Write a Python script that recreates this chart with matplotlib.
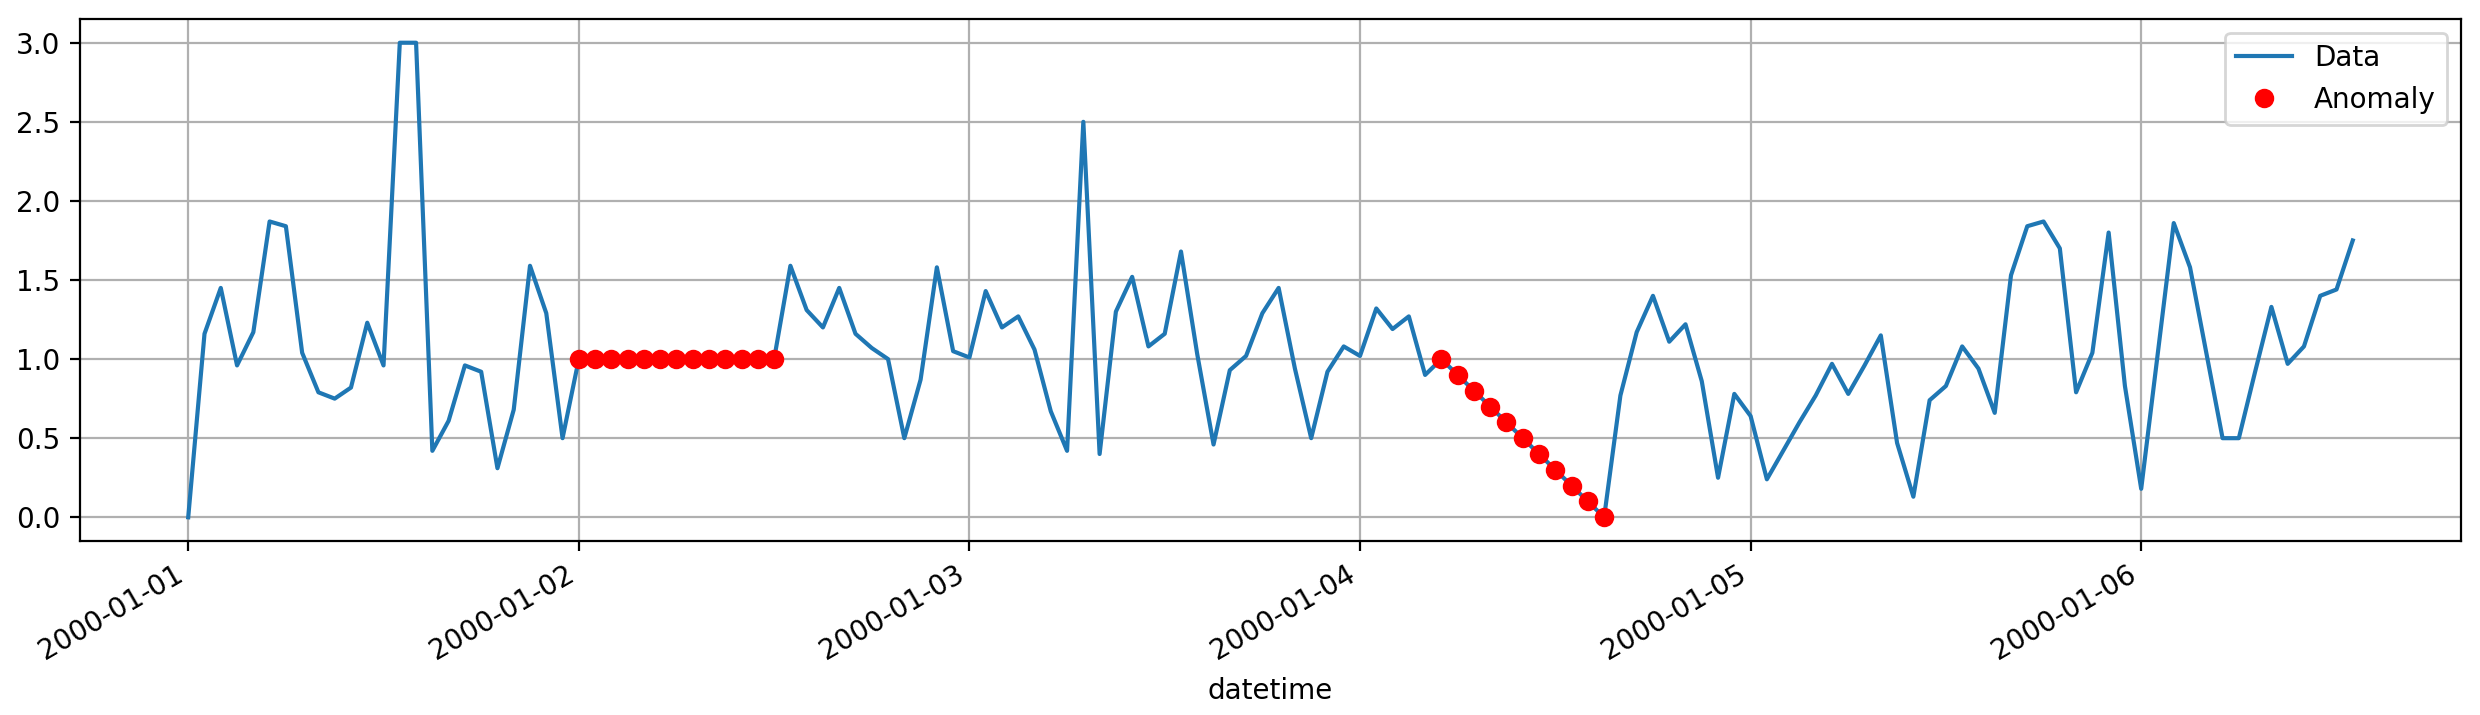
# hourly series with flagged anomalies

import numpy as np
import pandas as pd
import matplotlib
matplotlib.use('Agg')
import matplotlib.pyplot as plt
import matplotlib.dates as mdates

## data
start = '2000-01-01'
values = [
    0.00, 1.16, 1.45, 0.96, 1.17, 1.87, 1.84, 1.04, 0.79, 0.75,
    0.82, 1.23, 0.96, 3.00, 3.00, 0.42, 0.61, 0.96, 0.92, 0.31,
    0.68, 1.59, 1.29, 0.50, 1.00, 1.00, 1.00, 1.00, 1.00, 1.00,
    1.00, 1.00, 1.00, 1.00, 1.00, 1.00, 1.00, 1.59, 1.31, 1.20,
    1.45, 1.16, 1.07, 1.00, 0.50, 0.87, 1.58, 1.05, 1.01, 1.43,
    1.20, 1.27, 1.06, 0.67, 0.42, 2.50, 0.40, 1.30, 1.52, 1.08,
    1.16, 1.68, 1.03, 0.46, 0.93, 1.02, 1.29, 1.45, 0.94, 0.50,
    0.92, 1.08, 1.02, 1.32, 1.19, 1.27, 0.90, 1.00, 0.90, 0.80,
    0.70, 0.60, 0.50, 0.40, 0.30, 0.20, 0.10, 0.00, 0.77, 1.17,
    1.40, 1.11, 1.22, 0.86, 0.25, 0.78, 0.64, 0.24, 0.42, 0.60,
    0.77, 0.97, 0.78, 0.96, 1.15, 0.47, 0.13, 0.74, 0.83, 1.08,
    0.94, 0.66, 1.53, 1.84, 1.87, 1.70, 0.79, 1.04, 1.80, 0.83,
    0.18, 1.02, 1.86, 1.58, 1.04, 0.50, 0.50, 0.92, 1.33, 0.97,
    1.08, 1.40, 1.44, 1.75,
]
# positions (hour index) of the flagged points
anomaly_idx = list(range(24, 37)) + list(range(77, 88))

times = pd.date_range(start, periods=len(values), freq='h')
s = pd.Series(values, index=times)
anom = s.iloc[anomaly_idx]

## plot
plt.close('all')
fig = plt.figure(figsize=(12.4, 3.575), dpi=200)
ax = fig.add_axes([80 / 2480, 1 - 541 / 715, (2461 - 80) / 2480, (541 - 19) / 715])

ax.plot(s.index, s.values, color='#1f77b4', label='Data')
ax.plot(anom.index, anom.values, color='red', marker='o', linestyle='none', label='Anomaly')

ax.xaxis.set_major_locator(mdates.DayLocator())
ax.xaxis.set_major_formatter(mdates.DateFormatter('%Y-%m-%d'))
for lab in ax.get_xticklabels():
    lab.set_rotation(30)
    lab.set_ha('right')
ax.set_xlabel('datetime')
ax.grid(True)
ax.legend(loc='upper right')

fig.savefig('out.png', dpi=200)
